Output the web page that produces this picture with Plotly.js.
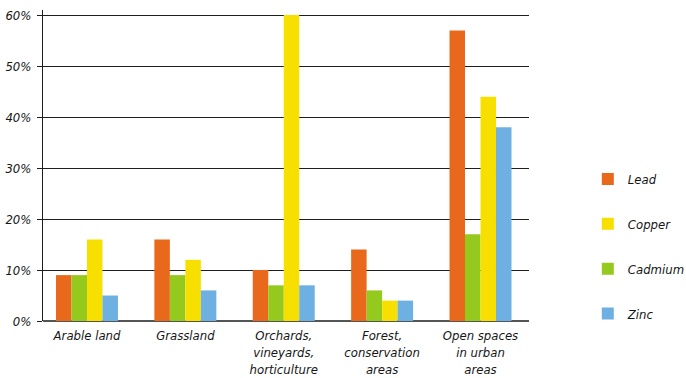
<!DOCTYPE html>
<html>
<head>
<meta charset="utf-8">
<script src="https://cdn.plot.ly/plotly-3.0.1.min.js"></script>
<style>
  html, body { margin: 0; padding: 0; background: #fff; }
  #chart { width: 686px; height: 378px; }
</style>
</head>
<body>
<div id="chart"></div>
<script>
// Land-use categories (x axis)
const categories = [
  "Arable land",
  "Grassland",
  "Orchards,<br>vineyards,<br>horticulture",
  "Forest,<br>conservation<br>areas",
  "Open spaces<br>in urban<br>areas"
];

// Share of sites exceeding limits, percent
const lead    = [9, 16, 10, 14, 57];
const cadmium = [9, 9, 7, 6, 17];
const copper  = [16, 12, 60, 4, 44];
const zinc    = [5, 6, 7, 4, 38];

const yTickVals = [0, 10, 20, 30, 40, 50, 60];
const yTickText = ["0%", "10%", "20%", "30%", "40%", "50%", "60%"];

const FONT = "'Liberation Sans Narrow', 'DejaVu Sans Condensed', 'Liberation Sans', sans-serif";

// Bars are drawn in order Lead, Cadmium, Copper, Zinc;
// the legend lists Lead, Copper, Cadmium, Zinc.
const series = [
  { name: "Lead",    y: lead,    color: "#E8691C", rank: 1 },
  { name: "Cadmium", y: cadmium, color: "#95C91E", rank: 3 },
  { name: "Copper",  y: copper,  color: "#F7DF00", rank: 2 },
  { name: "Zinc",    y: zinc,    color: "#6FB0E2", rank: 4 }
];

const traces = series.map(s => ({
  type: "bar",
  x: categories,
  y: s.y,
  name: "<i>" + s.name + "</i>",
  legendgroup: s.name,
  legendrank: s.rank,
  marker: { color: s.color, line: { width: 0 } },
  hoverinfo: "skip"
}));

const layout = {
  width: 686,
  height: 378,
  margin: { l: 43, r: 157, t: 10, b: 57, autoexpand: false },
  paper_bgcolor: "#fff",
  plot_bgcolor: "#fff",
  font: { family: FONT, size: 13, color: "#161616" },
  barmode: "group",
  bargap: 0.37,
  bargroupgap: 0,
  xaxis: {
    type: "category",
    range: [-0.447, 4.493],
    showgrid: false,
    showline: false,
    ticks: "",
    ticklabelstandoff: 5,
    tickfont: { family: FONT, size: 13, color: "#161616", style: "italic" },
    fixedrange: true
  },
  yaxis: {
    range: [0, 61],
    tickvals: yTickVals,
    ticktext: yTickText,
    showgrid: true,
    gridcolor: "#1e1e1e",
    gridwidth: 1,
    zeroline: true,
    zerolinecolor: "#555",
    zerolinewidth: 1.5,
    showline: true,
    linecolor: "#1e1e1e",
    linewidth: 1,
    ticks: "outside",
    ticklen: 5,
    tickcolor: "#1e1e1e",
    ticklabelstandoff: 3,
    tickfont: { family: FONT, size: 13, color: "#161616", style: "italic" },
    fixedrange: true
  },
  showlegend: true,
  legend: {
    x: 1.121,
    xanchor: "left",
    y: 0.505,
    yanchor: "top",
    tracegroupgap: 25,
    font: { family: FONT, size: 13, color: "#161616" },
    bgcolor: "rgba(0,0,0,0)"
  }
};

Plotly.newPlot("chart", traces, layout, { displayModeBar: false, staticPlot: true });
</script>
</body>
</html>
